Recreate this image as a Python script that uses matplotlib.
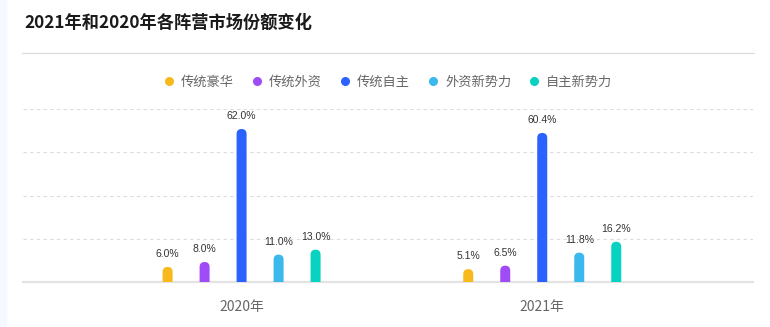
import matplotlib
matplotlib.use("Agg")
import matplotlib.pyplot as plt
from matplotlib.patches import FancyBboxPatch, Rectangle
from matplotlib.lines import Line2D

plt.rcParams['font.family'] = ['Noto Sans CJK SC', 'DejaVu Sans']

# data
years = ['2020年', '2021年']
groups = ['传统豪华', '传统外资', '传统自主', '外资新势力', '自主新势力']
share_2020 = [6.0, 8.0, 62.0, 11.0, 13.0]
share_2021 = [5.1, 6.5, 60.4, 11.8, 16.2]
colors = ['#f8b91c', '#a04cf6', '#2b62fe', '#3bb9ec', '#08d3c0']
title = '2021年和2020年各阵营市场份额变化'

W, H = 770, 327
fig = plt.figure(figsize=(W / 100, H / 100), dpi=100)

# axes placed in pixel terms
x0, x1 = 23, 753
y_base, y_top = 281.7, 109.3
ax = fig.add_axes([x0 / W, 1 - y_base / H, (x1 - x0) / W, (y_base - y_top) / H])
xmin, xmax = -0.727, 1.701
ymax = 70
ax.set_xlim(xmin, xmax)
ax.set_ylim(0, ymax)

px_x = (x1 - x0) / (xmax - xmin)
px_y = (y_base - y_top) / ymax
bar_w = 10 / px_x
step = 37 / px_x
r = bar_w / 2
aspect = px_x / px_y

series = [share_2020, share_2021]
for ci, vals in enumerate(series):
    for gi, v in enumerate(vals):
        xc = ci + (gi - 2) * step
        box = FancyBboxPatch((xc - bar_w / 2, -r * aspect), bar_w, v + r * aspect,
                             boxstyle=f"round,pad=0,rounding_size={r}",
                             mutation_aspect=aspect, linewidth=0,
                             facecolor=colors[gi], zorder=3)
        ax.add_patch(box)
        ax.annotate(f'{v:.1f}%', (xc, v), xytext=(0, 13), textcoords='offset pixels',
                    ha='center', va='center', fontsize=7.5, color='#333333',
                    family=['Liberation Sans'])

# grid and axes styling
ax.set_yticks([17.5, 35, 52.5, 70])
ax.yaxis.grid(True, linestyle=(0, (3, 3)), color='#dcdcdc', linewidth=0.8)
ax.set_axisbelow(True)
ax.tick_params(axis='y', left=False, labelleft=False)
ax.set_xticks([0, 1])
ax.set_xticklabels(years, fontsize=10, color='#666666')
ax.tick_params(axis='x', length=0, pad=13)
for s in ['top', 'right', 'left']:
    ax.spines[s].set_visible(False)
ax.spines['bottom'].set_color('#e3e3e3')
ax.spines['bottom'].set_linewidth(1.6)

# legend
handles = [Line2D([], [], marker='o', linestyle='none', markersize=6.5,
                  markerfacecolor=c, markeredgewidth=0) for c in colors]
fig.legend(handles, groups, loc='center', bbox_to_anchor=(388 / W, 1 - 82 / H),
           ncol=5, frameon=False, fontsize=9.5, labelcolor='#666666',
           handlelength=0.8, handletextpad=0.55, columnspacing=1.3)

# title, separator and left strip
fig.text(24 / W, 1 - 22.5 / H, title, fontsize=12.4, fontweight='bold',
         color='#1a1a1a', va='center', ha='left')
fig.add_artist(Line2D([22 / W, 754 / W], [1 - 53.3 / H] * 2, color='#dddddd', linewidth=0.9))
fig.add_artist(Rectangle((0, 0), 6 / W, 1, transform=fig.transFigure,
                         color='#f5f8fe', zorder=0))

fig.savefig('out.png', dpi=100)
